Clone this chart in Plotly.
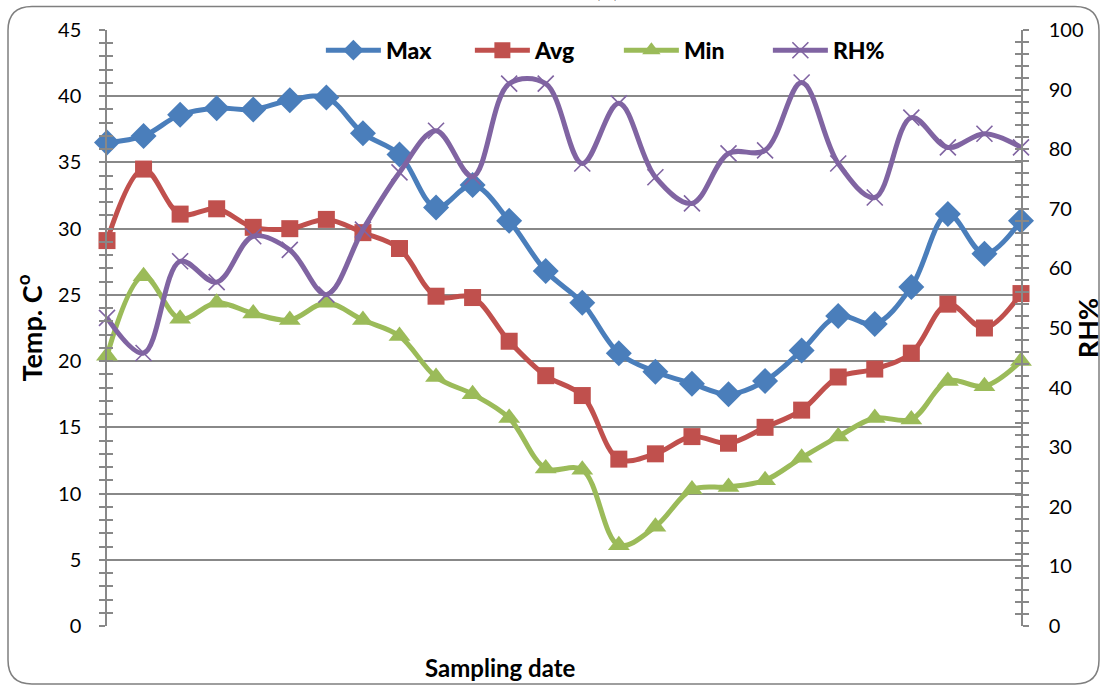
import plotly.graph_objects as go

# ---- data ----
idx = list(range(26))
max_t = [36.5, 37.0, 38.6, 39.1, 39.0, 39.7, 39.9, 37.2, 35.6, 31.6, 33.3, 30.6, 26.8,
         24.4, 20.6, 19.2, 18.3, 17.5, 18.5, 20.8, 23.4, 22.8, 25.6, 31.1, 28.1, 30.6]
avg_t = [29.1, 34.5, 31.1, 31.5, 30.1, 30.0, 30.7, 29.7, 28.5, 24.9, 24.8, 21.5, 18.9,
         17.4, 12.6, 13.0, 14.3, 13.8, 15.0, 16.3, 18.8, 19.4, 20.6, 24.3, 22.5, 25.1]
min_t = [20.4, 26.4, 23.2, 24.4, 23.6, 23.1, 24.4, 23.1, 21.9, 18.8, 17.5, 15.7, 11.9,
         11.8, 6.1, 7.5, 10.3, 10.5, 11.0, 12.7, 14.3, 15.7, 15.6, 18.5, 18.1, 20.0]
rh = [51.7, 45.8, 61.2, 57.7, 65.4, 63.1, 55.6, 66.5, 76.1, 83.1, 75.4, 91.0, 91.0,
      77.6, 87.7, 75.3, 70.9, 79.3, 79.8, 91.2, 77.6, 71.9, 85.3, 80.3, 82.6, 80.3]

FONT = "Lato"
GRID = "#888888"

fig = go.Figure()

def add(name, y, color, symbol, size, axis, mline=None):
    marker = dict(symbol=symbol, size=size, color=color)
    if mline:
        marker["line"] = mline
    fig.add_trace(go.Scatter(
        x=idx, y=y, name=name, mode="lines+markers",
        line=dict(color=color, width=5, shape="spline", smoothing=1.0),
        marker=marker, yaxis=axis, cliponaxis=False))

add("Max", max_t, "#4A7EBB", "diamond", 20, "y")
add("Avg", avg_t, "#C0504D", "square", 17, "y")
add("Min", min_t, "#9BBB59", "triangle-up", 19, "y")
add("RH%", rh, "#8064A2", "x-thin", 16, "y2", mline=dict(color="#8064A2", width=1.6))

tickfont = dict(family=FONT, size=20, color="#000")

fig.update_layout(
    width=1104, height=687,
    margin=dict(l=107, r=83, t=30, b=61, autoexpand=False),
    paper_bgcolor="white", plot_bgcolor="white",
    font=dict(family=FONT, color="#000"),
    showlegend=True,
    legend=dict(orientation="h", x=0.234, y=0.966, xanchor="left", yanchor="middle",
                bgcolor="rgba(0,0,0,0)", font=dict(family=FONT, size=23, color="#000", weight=900),
                itemwidth=55, entrywidth=79, entrywidthmode="pixels", traceorder="normal"),
    xaxis=dict(range=[0, 25], showgrid=False, zeroline=False, showline=False,
               showticklabels=False, ticks="", automargin=False),
    yaxis=dict(range=[0, 45], dtick=5, ticks="outside", showgrid=True, gridcolor=GRID,
               gridwidth=1.5, zeroline=False, showline=True, linecolor=GRID, linewidth=1.5,
               tickcolor=GRID, tickwidth=1.5, ticklen=6, tickfont=tickfont, ticklabelstandoff=14,
               automargin=False,
               minor=dict(dtick=1, ticks="outside", ticklen=6, tickcolor=GRID, tickwidth=1.5),
               title=dict(text="<b>Temp. C<sup>o</sup></b>", standoff=8,
                          font=dict(family=FONT, size=27, color="#000"))),
    yaxis2=dict(range=[0, 100], dtick=10, side="right", overlaying="y", ticks="outside",
                showgrid=False, zeroline=False, showline=True, linecolor=GRID, linewidth=1.5,
                tickcolor=GRID, tickwidth=1.5, ticklen=6, tickfont=tickfont, ticklabelstandoff=16,
                automargin=False,
                minor=dict(dtick=2, ticks="outside", ticklen=6, tickcolor=GRID, tickwidth=1.5),
                title=dict(text="<b>RH%</b>", standoff=2,
                           font=dict(family=FONT, size=27, color="#000"))),
    yaxis3=dict(range=[0, 45], dtick=5, overlaying="y", side="left", ticks="inside",
                showticklabels=False, showline=False, showgrid=False, zeroline=False,
                tickcolor=GRID, tickwidth=1.5, ticklen=6, automargin=False,
                minor=dict(dtick=1, ticks="inside", ticklen=6, tickcolor=GRID, tickwidth=1.5)),
    yaxis4=dict(range=[0, 100], dtick=10, overlaying="y", side="right", ticks="inside",
                showticklabels=False, showline=False, showgrid=False, zeroline=False,
                tickcolor=GRID, tickwidth=1.5, ticklen=6, automargin=False,
                minor=dict(dtick=2, ticks="inside", ticklen=6, tickcolor=GRID, tickwidth=1.5)),
)

# dummy empty traces so the tick-only overlay axes are drawn
fig.add_trace(go.Scatter(x=[None], y=[None], yaxis="y3", showlegend=False, hoverinfo="skip"))
fig.add_trace(go.Scatter(x=[None], y=[None], yaxis="y4", showlegend=False, hoverinfo="skip"))

W, H = 914.0, 596.5
def px(x):
    return (x - 107) / W
def py(y):
    return (626 - y) / H

fig.add_annotation(text="<b>Sampling date</b>", xref="paper", yref="paper", x=px(500), y=py(668),
                   xanchor="center", yanchor="middle", showarrow=False,
                   font=dict(family=FONT, size=24, color="#000"))
fig.add_annotation(text="<b>(b)</b>", xref="paper", yref="paper", x=px(607), y=py(-12),
                   xanchor="center", yanchor="middle",
                   showarrow=False, font=dict(family=FONT, size=22, color="#000"))

# outer rounded border
L, R, T, B, r = 8, 1099, 6, 684, 24
path = (f"M {px(L + r)},{py(T)} L {px(R - r)},{py(T)} Q {px(R)},{py(T)} {px(R)},{py(T + r)} "
        f"L {px(R)},{py(B - r)} Q {px(R)},{py(B)} {px(R - r)},{py(B)} "
        f"L {px(L + r)},{py(B)} Q {px(L)},{py(B)} {px(L)},{py(B - r)} "
        f"L {px(L)},{py(T + r)} Q {px(L)},{py(T)} {px(L + r)},{py(T)} Z")
fig.add_shape(type="path", path=path, xref="paper", yref="paper",
              line=dict(color="#7F7F7F", width=1.5), layer="below")

fig.write_html("out.html")
